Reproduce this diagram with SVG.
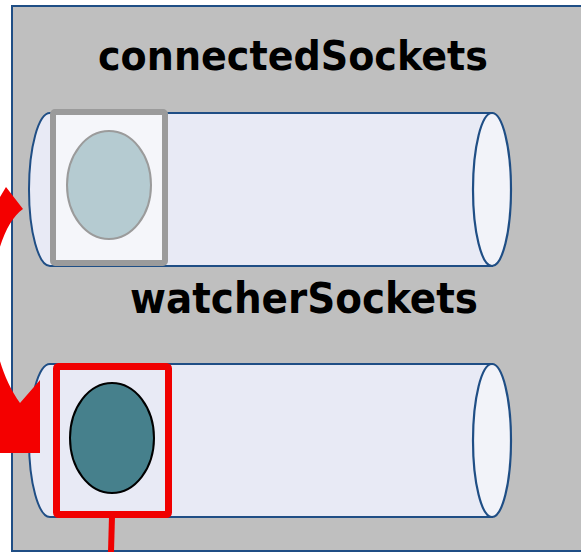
<svg xmlns="http://www.w3.org/2000/svg" width="581" height="552" viewBox="0 0 581 552">
<style>
.title{font-family:"DejaVu Sans","Liberation Sans",sans-serif;font-weight:bold;fill:#000}
.cylbody{fill:#e8eaf5;stroke:#1f4e85;stroke-width:2}
.cylend{fill:#f2f3f9;stroke:#1f4e85;stroke-width:2.2}
</style>
<rect width="581" height="552" fill="#ffffff"/>
<g id="container">
<rect x="12" y="6" width="620" height="545" fill="#bfbfbf" stroke="#1f4e85" stroke-width="2"/>
</g>
<g id="connectedSockets">
<text class="title" x="98" y="70" font-size="40" textLength="390" lengthAdjust="spacingAndGlyphs">connectedSockets</text>
<path class="cylbody" d="M50,113 L492,113 L492,266 L50,266 A21,76.5 0 0 1 50,113 Z"/>
<ellipse class="cylend" cx="492" cy="189.5" rx="19" ry="76.5"/>
<rect x="53" y="112" width="112" height="151" rx="2" fill="#f5f6fa" stroke="#9b9b9b" stroke-width="6"/>
<ellipse cx="109" cy="185" rx="42" ry="54" fill="#b5cbd1" stroke="#9b9b9b" stroke-width="2"/>
</g>
<g id="watcherSockets">
<text class="title" x="130" y="313" font-size="42" textLength="348" lengthAdjust="spacingAndGlyphs">watcherSockets</text>
<path class="cylbody" d="M50,364 L492,364 L492,517 L50,517 A21,76.5 0 0 1 50,364 Z"/>
<ellipse class="cylend" cx="492" cy="440.5" rx="19" ry="76.5"/>
<rect x="56.5" y="366.5" width="112" height="148" rx="2" fill="#e8eaf5" stroke="#f00000" stroke-width="7"/>
<ellipse cx="112" cy="438" rx="42" ry="55" fill="#46808c" stroke="#000" stroke-width="2"/>
</g>
<g id="connectors">
<path d="M6,187 L23,209 C-10,232 -25,340 20,403 L40,380 L40,453 L-60,453 L-60,260 L-6,207 Z" fill="#f40000"/>
<line x1="112" y1="516" x2="111" y2="552" stroke="#f00000" stroke-width="6"/>
</g>
</svg>
